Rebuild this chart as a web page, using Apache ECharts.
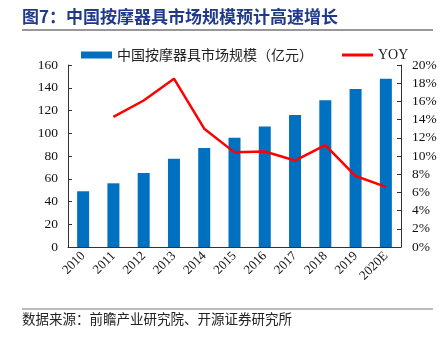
<!DOCTYPE html>
<html><head><meta charset="utf-8">
<script src="https://cdn.jsdelivr.net/npm/echarts@6/dist/echarts.min.js"></script>
<style>html,body{margin:0;padding:0;background:#fff}#c{width:447px;height:337px}</style>
</head><body><div id="c"></div>
<script>
var categories = ['2010','2011','2012','2013','2014','2015','2016','2017','2018','2019','2020E'];
var marketSize = [49, 56, 65, 77.5, 87, 96, 106, 116, 129, 139, 148];
var yoy = [null, 14.3, 16.1, 18.5, 13.0, 10.4, 10.5, 9.5, 11.2, 7.8, 6.6];
var leftTicks = [0, 20, 40, 60, 80, 100, 120, 140, 160];
var rightTicks = [0, 2, 4, 6, 8, 10, 12, 14, 16, 18, 20];

var chart = echarts.init(document.getElementById('c'));
var serif = '"Liberation Serif","DejaVu Serif",serif';
var cjk = '"Noto Sans CJK SC",sans-serif';
chart.setOption({
  animation: false,
  graphic: [
    {type:'text', left:22, top:8, style:{text:'图7：中国按摩器具市场规模预计高速增长', font:'bold 17px "Noto Sans CJK SC"', fill:'#1F3A8A'}},
    {type:'line', shape:{x1:22,y1:30,x2:433,y2:30}, style:{stroke:'#333',lineWidth:1}},
    {type:'line', shape:{x1:22,y1:309,x2:433,y2:309}, style:{stroke:'#777',lineWidth:1}},
    {type:'text', left:22, top:312, style:{text:'数据来源：前瞻产业研究院、开源证券研究所', font:'13.5px "Noto Sans CJK SC"', fill:'#222'}}
  ],
  legend: [{
    left: 76, top: 43, itemWidth: 31, itemHeight: 7,
    textStyle: {fontFamily: cjk, fontSize: 14, color: '#222'},
    data: [{name:'中国按摩器具市场规模（亿元）', icon:'rect'}]
  }, {
    left: 337, top: 43, itemWidth: 31, itemHeight: 3,
    textStyle: {fontFamily: serif, fontSize: 14, color: '#222'},
    data: [{name:'YOY', icon:'rect', itemStyle:{color:'#FF0000'}}]
  }],
  grid: {left: 68, right: 46, top: 65, bottom: 90, containLabel: false},
  xAxis: {
    type: 'category', data: categories,
    axisLine: {lineStyle: {color: '#333'}},
    axisTick: {inside: true, length: 4, lineStyle:{color:'#333'}},
    axisLabel: {rotate: 45, fontFamily: serif, fontSize: 13, color: '#111', margin: 7}
  },
  yAxis: [
    {type:'value', min:0, max:160, interval:20,
     axisLine:{show:true, lineStyle:{color:'#333'}},
     axisTick:{show:true, inside:true, length:4, lineStyle:{color:'#333'}},
     splitLine:{show:false},
     axisLabel:{fontFamily: serif, fontSize: 13.5, color:'#111', margin: 10}},
    {type:'value', min:0, max:20, interval:2,
     axisLine:{show:true, lineStyle:{color:'#333'}},
     axisTick:{show:true, inside:true, length:4, lineStyle:{color:'#333'}},
     splitLine:{show:false},
     axisLabel:{fontFamily: serif, fontSize: 13.5, color:'#111', margin: 11, formatter:'{value}%'}}
  ],
  series: [
    {name:'中国按摩器具市场规模（亿元）', type:'bar', data: marketSize, barWidth: 12,
     itemStyle:{color:'#0070C0'}},
    {name:'YOY', type:'line', yAxisIndex:1, data: yoy, symbol:'none',
     lineStyle:{color:'#FF0000', width:2.5}, itemStyle:{color:'#FF0000'}}
  ]
});
</script></body></html>
